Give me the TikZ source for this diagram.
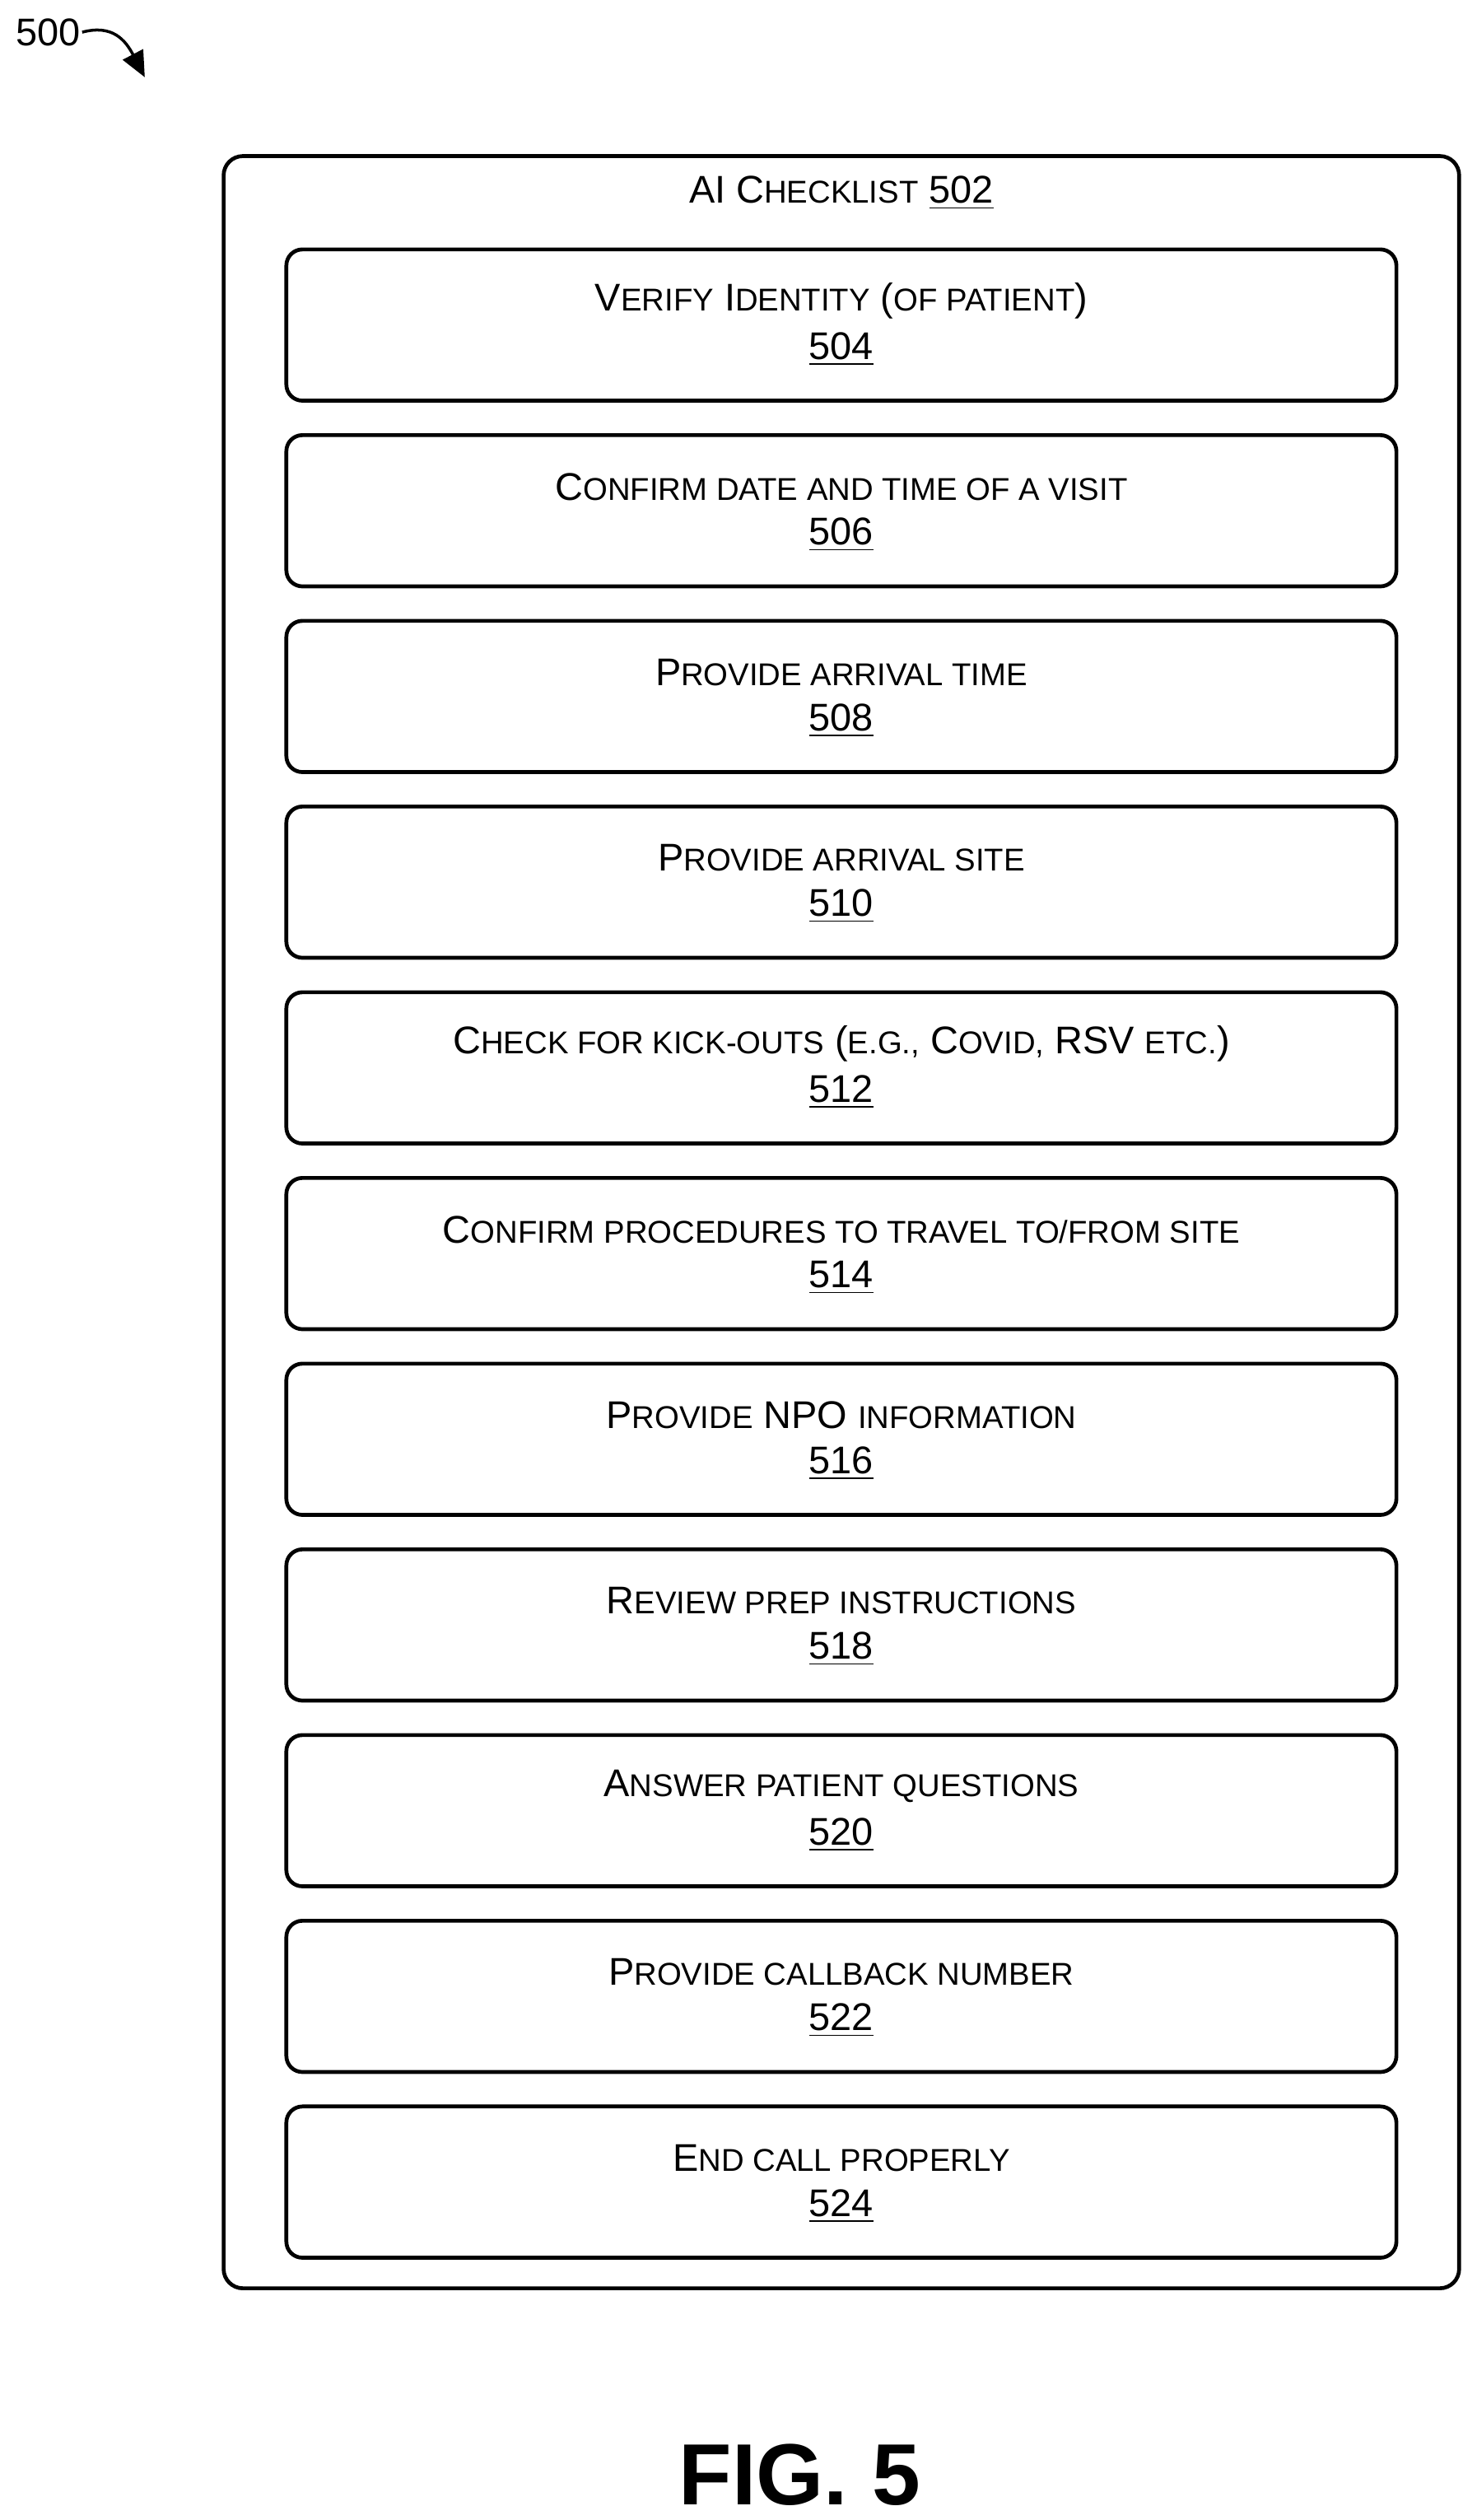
\documentclass[tikz,border=0pt]{standalone}
\usepackage{fontspec}
\setmainfont{Liberation Sans}
\usetikzlibrary{arrows.meta}
\newcommand\smc[1]{{\fontsize{9.8}{10}\selectfont\MakeUppercase{#1}}}
\tikzset{
  itembox/.style={draw,line width=1.2pt,rounded corners=5pt,minimum width=345pt,minimum height=47pt},
  frame/.style={draw,line width=1.2pt,rounded corners=6pt}
}
\begin{document}
\begin{tikzpicture}[x=0.5pt,y=-0.5pt,font=\fontsize{12}{14.5}\selectfont]
        \useasboundingbox (0,0) rectangle (918,1566);
        \node[frame,minimum width=384pt,minimum height=662.5pt] (list) at (523,759.5) {};
        \node (title) at (523,120) {AI C\smc{hecklist} \underline{502}};

        \foreach \i/\txt/\num in {
            0/{V\smc{erify} I\smc{dentity} (\smc{of patient})}/504,
            1/{C\smc{onfirm date and time of a visit}}/506,
            2/{P\smc{rovide arrival time}}/508,
            3/{P\smc{rovide arrival site}}/510,
            4/{C\smc{heck for kick-outs} (\smc{e.g.,} C\smc{ovid,} RSV \smc{etc.})}/512,
            5/{C\smc{onfirm procedures to travel to/from site}}/514,
            6/{P\smc{rovide} NPO \smc{information}}/516,
            7/{R\smc{eview prep instructions}}/518,
            8/{A\smc{nswer patient questions}}/520,
            9/{P\smc{rovide callback number}}/522,
            10/{E\smc{nd call properly}}/524} {
                \node[itembox] (S\num) at (523,202+\i*115.4) {};
                \node (T\num) at (523,187+\i*115.4) {\txt};
                \node (N\num) at (523,217+\i*115.4) {\underline{\num}};
            }

        \node (lbl) at (30,20) {500};
        \coordinate (tip) at (90,48);
        \draw[line width=0.9pt,-{Triangle[length=8pt,width=7pt]}] ([xshift=-3pt]lbl.east) .. controls (70,15) and (78,25) .. (tip);

        \node[font=\fontsize{27}{30}\selectfont\bfseries] (fig) at (497,1538) {FIG. 5};
    \end{tikzpicture}
\end{document}
